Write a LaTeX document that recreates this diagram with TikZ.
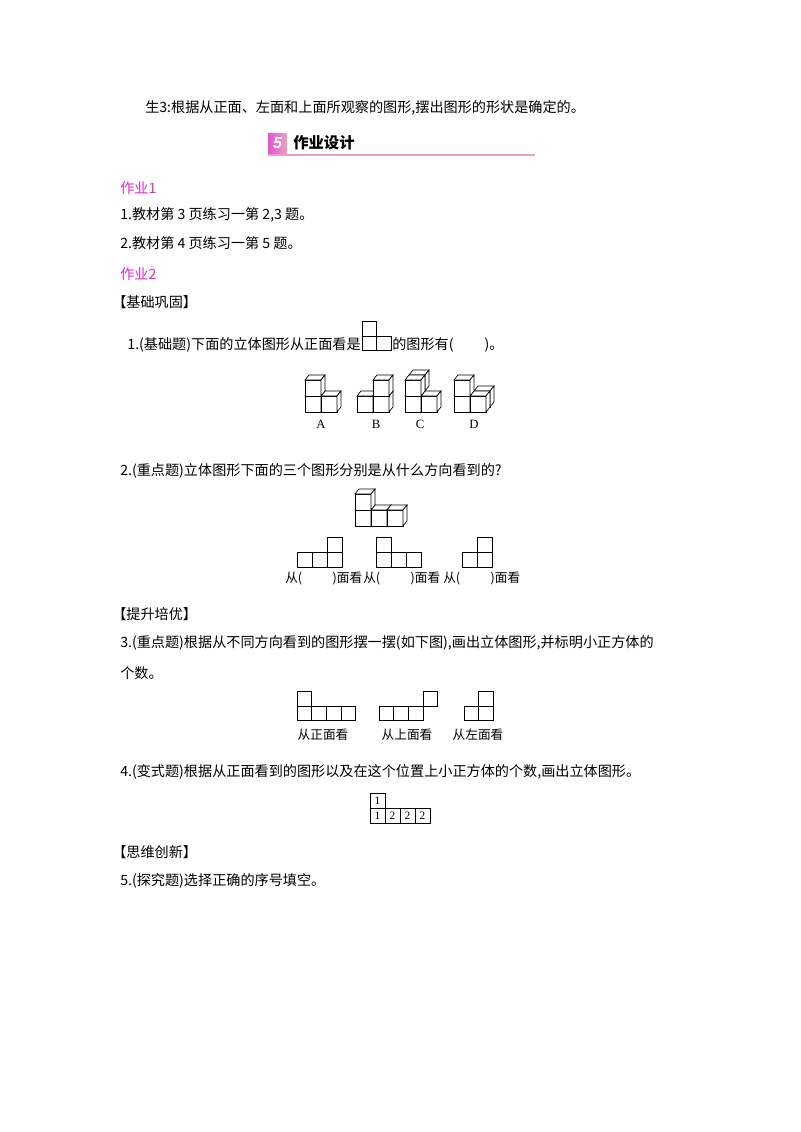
\documentclass[tikz,border=0pt]{standalone}
\usepackage{fontspec}
\newfontfamily\cjk{Noto Sans CJK SC}
\newfontfamily\lser{Liberation Serif}
\definecolor{mag}{RGB}{225,40,200}
\definecolor{pinkl}{RGB}{235,160,195}
\newcommand{\cb}[5]{% x0 y0 i j k
  \pgfmathsetmacro{\xa}{#1+#3*16+#5*4}\pgfmathsetmacro{\ya}{#2-#4*16-#5*5}
  \draw[fill=white,line width=0.5pt] (\xa,\ya) -- ++(16,0) -- ++(0,-16) -- ++(-16,0) -- cycle;
  \draw[fill=white,line width=0.5pt] (\xa,\ya-16) -- ++(4,-5) -- ++(16,0) -- ++(-4,5) -- cycle;
  \draw[fill=white,line width=0.5pt] (\xa+16,\ya) -- ++(4,-5) -- ++(0,-16) -- ++(-4,5) -- cycle;}
\newcommand{\sq}[3]{\draw[line width=0.5pt] (#1,#2) rectangle ++(#3,-#3);}
\begin{document}
\begin{tikzpicture}[x=0.75pt,y=-0.75pt,
  t/.style={anchor=west,inner sep=0pt,font=\cjk\fontsize{10.6}{12}\selectfont},
  c/.style={inner sep=0pt,font=\cjk\fontsize{9.5}{11}\selectfont},
  lab/.style={inner sep=0pt,font=\lser\fontsize{9.5}{11}\selectfont}]
\useasboundingbox[fill=white] (0,0) rectangle (800,1132);
\node[t] (l0) at (145,108) {生3:根据从正面、左面和上面所观察的图形,摆出图形的形状是确定的。};
% header
\shade[left color=mag!80,right color=pinkl] (268,133) rectangle (287,154);
\node[inner sep=0pt,text=white,font=\fontspec{Liberation Sans}\bfseries\itshape\fontsize{12}{12}\selectfont] (n5) at (277.5,143.5) {5};
\node[t,font=\cjk\bfseries\fontsize{11.5}{12}\selectfont] (hd) at (293,143) {作业设计};
\draw[pinkl,line width=1pt] (268,155) -- (535,155);
\node[t,text=mag] (z1) at (120,188) {作业1};
\node[t] (a1) at (120,215) {1.教材第 3 页练习一第 2,3 题。};
\node[t] (a2) at (120,243) {2.教材第 4 页练习一第 5 题。};
\node[t,text=mag] (z2) at (120,274) {作业2};
\node[t] (b1) at (112,302) {【基础巩固】};
\node[t,anchor=east] (q1) at (361,345) {1.(基础题)下面的立体图形从正面看是};
\node[t] (q1b) at (392,345) {的图形有(\hspace{2.2em})。};
\sq{362}{336}{14.5}\sq{362}{350.5}{14.5}\sq{376.5}{350.5}{14.5}
% A
\cb{305}{412}{0}{0}{0}\cb{305}{412}{1}{0}{0}\cb{305}{412}{0}{1}{0}
% B
\cb{357}{412}{0}{0}{0}\cb{357}{412}{1}{0}{0}\cb{357}{412}{1}{1}{0}
% C
\cb{405}{412}{0}{1}{1}\cb{405}{412}{0}{0}{0}\cb{405}{412}{1}{0}{0}\cb{405}{412}{0}{1}{0}
% D
\cb{454}{412}{1}{0}{1}\cb{454}{412}{0}{0}{0}\cb{454}{412}{1}{0}{0}\cb{454}{412}{0}{1}{0}
\node[lab] (A) at (321,424) {A};
\node[lab] (B) at (376,424) {B};
\node[lab] (C) at (420,424) {C};
\node[lab] (D) at (474,424) {D};
\node[t] (q2) at (120,471) {2.(重点题)立体图形下面的三个图形分别是从什么方向看到的?};
\cb{355}{526}{0}{0}{0}\cb{355}{526}{1}{0}{0}\cb{355}{526}{2}{0}{0}\cb{355}{526}{0}{1}{0}
\sq{297}{567}{15}\sq{312}{567}{15}\sq{327}{567}{15}\sq{327}{552}{15}
\sq{376}{567}{15}\sq{391}{567}{15}\sq{406}{567}{15}\sq{376}{552}{15}
\sq{462}{567}{15}\sq{477}{567}{15}\sq{477}{552}{15}
\node[c,anchor=west] (v1) at (285,578) {从(\hspace{2.4em})面看};
\node[c,anchor=west] (v2) at (363,578) {从(\hspace{2.4em})面看};
\node[c,anchor=west] (v3) at (443,578) {从(\hspace{2.4em})面看};
\node[t] (b2) at (112,614) {【提升培优】};
\node[t] (q3) at (120,643) {3.(重点题)根据从不同方向看到的图形摆一摆(如下图),画出立体图形,并标明小正方体的};
\node[t] (q3b) at (120,673) {个数。};
\sq{297}{706}{14.7}\sq{297}{720.7}{14.7}\sq{311.7}{720.7}{14.7}\sq{326.4}{720.7}{14.7}\sq{341.1}{720.7}{14.7}
\sq{379}{720.7}{14.7}\sq{393.7}{720.7}{14.7}\sq{408.4}{720.7}{14.7}\sq{423.1}{706}{14.7}
\sq{464}{720.7}{14.7}\sq{478.7}{720.7}{14.7}\sq{478.7}{706}{14.7}
\node[c] (w1) at (323,735) {从正面看};
\node[c] (w2) at (407,735) {从上面看};
\node[c] (w3) at (478,735) {从左面看};
\node[t] (q4) at (120,772) {4.(变式题)根据从正面看到的图形以及在这个位置上小正方体的个数,画出立体图形。};
\sq{370}{808}{15}\sq{370}{823}{15}\sq{385}{823}{15}\sq{400}{823}{15}\sq{415}{823}{15}
\node[lab,font=\lser\fontsize{8.5}{10}\selectfont] (g0) at (377.5,800.5) {1};
\node[lab,font=\lser\fontsize{8.5}{10}\selectfont] (g1) at (377.5,815.5) {1};
\node[lab,font=\lser\fontsize{8.5}{10}\selectfont] (g2) at (392.5,815.5) {2};
\node[lab,font=\lser\fontsize{8.5}{10}\selectfont] (g3) at (407.5,815.5) {2};
\node[lab,font=\lser\fontsize{8.5}{10}\selectfont] (g4) at (422.5,815.5) {2};
\node[t] (b3) at (112,852) {【思维创新】};
\node[t] (q5) at (120,881) {5.(探究题)选择正确的序号填空。};
\end{tikzpicture}
\end{document}
